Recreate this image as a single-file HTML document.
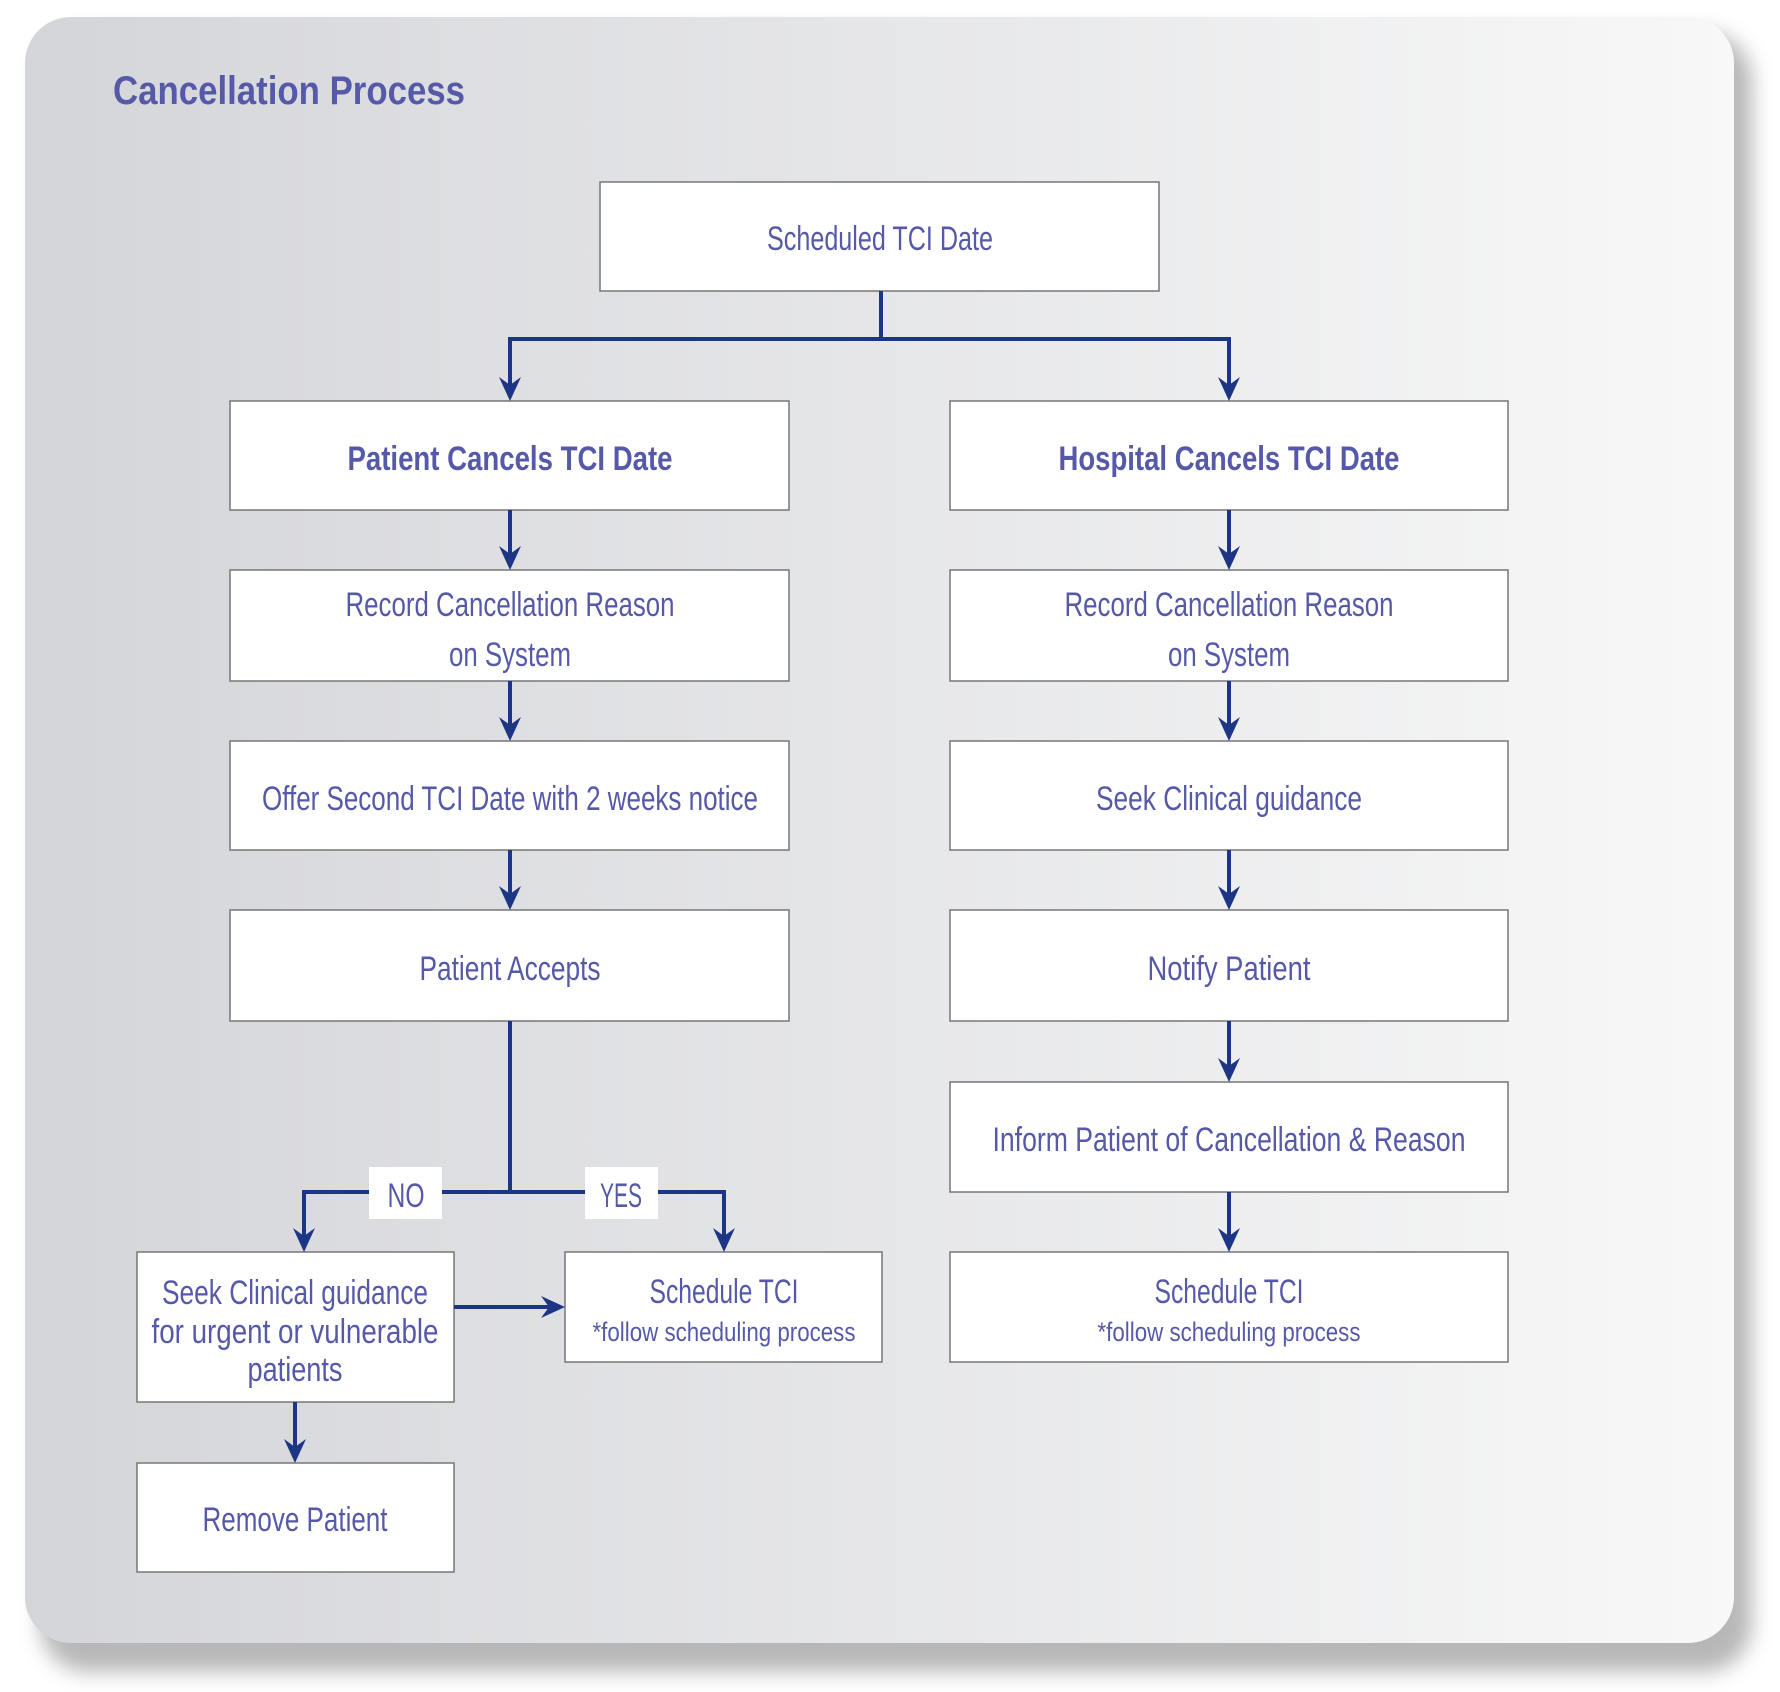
<!DOCTYPE html>
<html><head><meta charset="utf-8"><style>
html,body{margin:0;padding:0;background:#fff;}
svg{display:block}
text{font-family:"Liberation Sans Narrow","Liberation Sans",sans-serif;fill:#5659a8;}
</style></head><body>
<svg width="1780" height="1692" viewBox="0 0 1780 1692" xmlns="http://www.w3.org/2000/svg">
<defs>
<linearGradient id="bg" x1="0" y1="0" x2="1" y2="0">
<stop offset="0" stop-color="#d4d5d9"/><stop offset="1" stop-color="#f8f8f8"/>
</linearGradient>
<filter id="sh" x="-5%" y="-5%" width="115%" height="115%">
<feGaussianBlur stdDeviation="10"/>
</filter>
<marker id="ah" markerWidth="10" markerHeight="10" refX="9" refY="5" orient="auto" markerUnits="userSpaceOnUse" viewBox="0 0 10 10">
</marker>
</defs>
<rect x="40" y="32" width="1712" height="1640" rx="48" fill="#9a9a9a" opacity="0.7" filter="url(#sh)"/>
<rect x="25" y="17" width="1709" height="1626" rx="46" fill="url(#bg)"/>
<text x="113" y="104" font-size="40" font-weight="bold" textLength="352" lengthAdjust="spacingAndGlyphs">Cancellation Process</text>

<g fill="#fff" stroke="#777" stroke-width="1.5">
<rect x="600" y="182" width="559" height="109"/>
<rect x="230" y="401" width="559" height="109"/>
<rect x="950" y="401" width="558" height="109"/>
<rect x="230" y="570" width="559" height="111"/>
<rect x="950" y="570" width="558" height="111"/>
<rect x="230" y="741" width="559" height="109"/>
<rect x="950" y="741" width="558" height="109"/>
<rect x="230" y="910" width="559" height="111"/>
<rect x="950" y="910" width="558" height="111"/>
<rect x="950" y="1082" width="558" height="110"/>
<rect x="950" y="1252" width="558" height="110"/>
<rect x="137" y="1252" width="317" height="150"/>
<rect x="565" y="1252" width="317" height="110"/>
<rect x="137" y="1463" width="317" height="109"/>
</g>

<g stroke="#1c3584" stroke-width="4" fill="none">
<path d="M881 291V339M510 339H1229M510 337V390M1229 337V390"/>
<path d="M510 510V559M1229 510V559M510 681V730M1229 681V730M510 850V899M1229 850V899M1229 1021V1071M1229 1192V1241"/>
<path d="M510 1021V1192M304 1192H724M304 1190V1241M724 1190V1241"/>
<path d="M454 1307H554M295 1402V1452"/>
</g>
<g fill="#1c3584">
<path d="M499 377L510 401L521 377L510 385Z"/>
<path d="M1218 377L1229 401L1240 377L1229 385Z"/>
<path d="M499 546L510 570L521 546L510 554Z"/>
<path d="M1218 546L1229 570L1240 546L1229 554Z"/>
<path d="M499 717L510 741L521 717L510 725Z"/>
<path d="M1218 717L1229 741L1240 717L1229 725Z"/>
<path d="M499 886L510 910L521 886L510 894Z"/>
<path d="M1218 886L1229 910L1240 886L1229 894Z"/>
<path d="M1218 1058L1229 1082L1240 1058L1229 1066Z"/>
<path d="M1218 1228L1229 1252L1240 1228L1229 1236Z"/>
<path d="M293 1228L304 1252L315 1228L304 1236Z"/>
<path d="M713 1228L724 1252L735 1228L724 1236Z"/>
<path d="M284 1439L295 1463L306 1439L295 1447Z"/>
<path d="M541 1296L565 1307L541 1318L549 1307Z"/>
</g>
<rect x="369" y="1167" width="73" height="52" fill="#fff"/>
<rect x="585" y="1167" width="73" height="52" fill="#fff"/>

<g font-size="34" text-anchor="middle">
<text x="880" y="250" textLength="226" lengthAdjust="spacingAndGlyphs">Scheduled TCI Date</text>
<text x="510" y="470" font-weight="bold" fill="#4f53a3" textLength="325" lengthAdjust="spacingAndGlyphs">Patient Cancels TCI Date</text>
<text x="1229" y="470" font-weight="bold" fill="#4f53a3" textLength="341" lengthAdjust="spacingAndGlyphs">Hospital Cancels TCI Date</text>
<text x="510" y="616" textLength="329" lengthAdjust="spacingAndGlyphs">Record Cancellation Reason</text>
<text x="510" y="666" textLength="122" lengthAdjust="spacingAndGlyphs">on System</text>
<text x="1229" y="616" textLength="329" lengthAdjust="spacingAndGlyphs">Record Cancellation Reason</text>
<text x="1229" y="666" textLength="122" lengthAdjust="spacingAndGlyphs">on System</text>
<text x="510" y="810" textLength="496" lengthAdjust="spacingAndGlyphs">Offer Second TCI Date with 2 weeks notice</text>
<text x="1229" y="810" textLength="266" lengthAdjust="spacingAndGlyphs">Seek Clinical guidance</text>
<text x="510" y="980" textLength="181" lengthAdjust="spacingAndGlyphs">Patient Accepts</text>
<text x="1229" y="980" textLength="163" lengthAdjust="spacingAndGlyphs">Notify Patient</text>
<text x="1229" y="1151" textLength="473" lengthAdjust="spacingAndGlyphs">Inform Patient of Cancellation &amp; Reason</text>
<text x="1229" y="1303" textLength="149" lengthAdjust="spacingAndGlyphs">Schedule TCI</text>
<text x="1229" y="1341" font-size="27" textLength="263" lengthAdjust="spacingAndGlyphs">*follow scheduling process</text>
<text x="724" y="1303" textLength="149" lengthAdjust="spacingAndGlyphs">Schedule TCI</text>
<text x="724" y="1341" font-size="27" textLength="263" lengthAdjust="spacingAndGlyphs">*follow scheduling process</text>
<text x="295" y="1304" textLength="266" lengthAdjust="spacingAndGlyphs">Seek Clinical guidance</text>
<text x="295" y="1343" textLength="287" lengthAdjust="spacingAndGlyphs">for urgent or vulnerable</text>
<text x="295" y="1381" textLength="95" lengthAdjust="spacingAndGlyphs">patients</text>
<text x="295" y="1531" textLength="185" lengthAdjust="spacingAndGlyphs">Remove Patient</text>
<text x="406" y="1207" textLength="37" lengthAdjust="spacingAndGlyphs">NO</text>
<text x="621" y="1207" textLength="42" lengthAdjust="spacingAndGlyphs">YES</text>
</g>
</svg>
</body></html>
